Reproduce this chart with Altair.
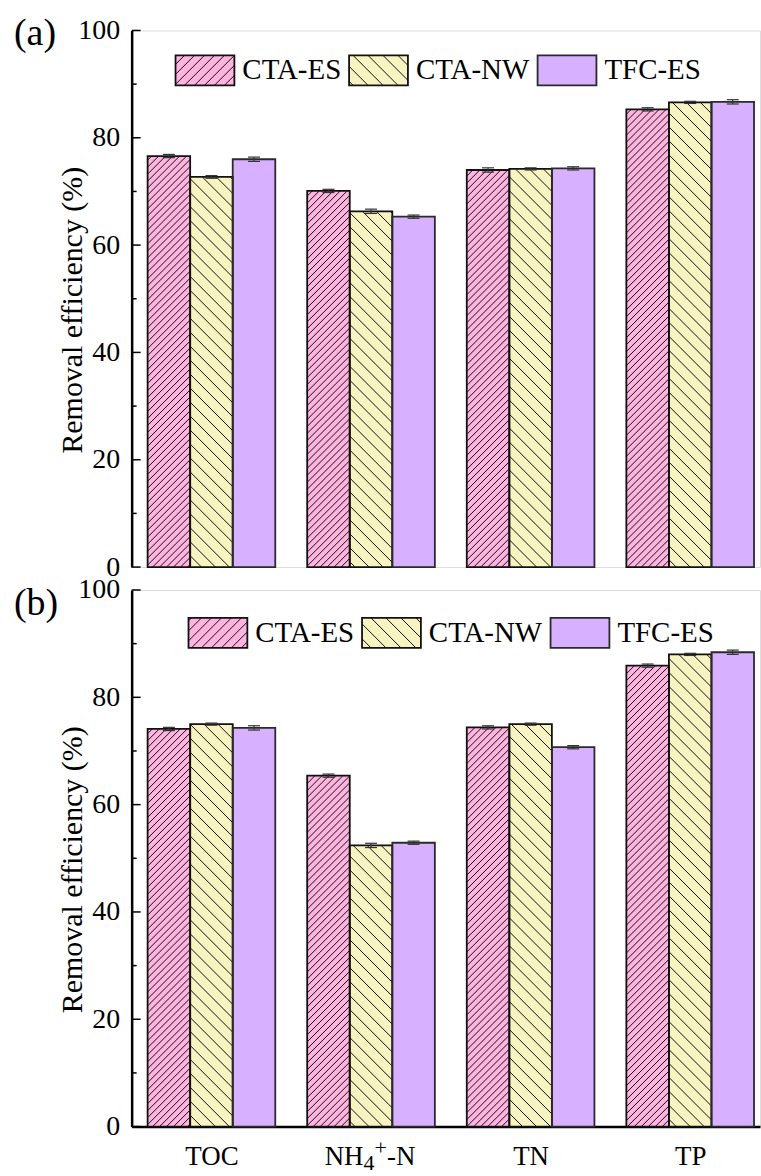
import altair as alt
import pandas as pd
import numpy as np

# ---------------- data ----------------
categories = ["TOC", "NH4+-N", "TN", "TP"]
nh_pieces = ["NH", "4", "+", "-N"]          # rich rendering of category 1
nh_roles = ["normal", "sub", "sup", "normal"]
series = ["CTA-ES", "CTA-NW", "TFC-ES"]
panel_labels = ["(a)", "(b)"]
y_title = "Removal efficiency (%)"

a_cta_es = [76.6, 70.1, 74.0, 85.3]
a_cta_nw = [72.7, 66.3, 74.2, 86.6]
a_tfc_es = [76.0, 65.3, 74.3, 86.7]
a_err_cta_es = [0.3, 0.3, 0.4, 0.3]
a_err_cta_nw = [0.25, 0.4, 0.2, 0.2]
a_err_tfc_es = [0.4, 0.3, 0.3, 0.4]

b_cta_es = [74.1, 65.4, 74.4, 85.9]
b_cta_nw = [75.0, 52.4, 75.0, 88.0]
b_tfc_es = [74.3, 52.9, 70.7, 88.4]
b_err_cta_es = [0.3, 0.3, 0.3, 0.3]
b_err_cta_nw = [0.2, 0.4, 0.2, 0.2]
b_err_tfc_es = [0.4, 0.3, 0.3, 0.4]

y_major = [0, 20, 40, 60, 80, 100]
y_minor = [10, 30, 50, 70, 90]

# ---------------- style / layout ----------------
FONT = "Liberation Serif"
colors = ["#FFB3DF", "#F8F4C1", "#D7B0FF"]
outline = ["#111111", "#111111", "#2a2a2a"]
hatch_dir = [1, -1, 0]          # "/" , "\" , none
hatch_gap_bar = [7.0, 14.0, 0]
hatch_gap_leg = [10.0, 15.0, 0]

W, H = 630, 538
GROUP_PX = 160.0
X_MIN = -0.5
X_MAX = X_MIN + W / GROUP_PX
BAR_FRAC = 0.8 / 3

LEG_LEFT = [44, 57]       # px from plot left
LEG_TOP = [25, 28]        # px from plot top
LEG_SW_W, LEG_SW_H = 59, 30
LEG_STEP = [0, 174, 363]
LEG_TEXT_DX = 67

XLAB_SIZE = 27
XLAB_PAD = 17
XLAB_MID = XLAB_PAD + 14          # px below plot bottom of the label centre
NH_DX = [-46.5, -7.5, 3.5, 16.0]  # px from group centre (left edges of pieces)
ROLE_DY = {"normal": 0, "sub": 6, "sup": -10}
ROLE_SIZE = {"normal": 27, "sub": 22, "sup": 22}


def px2x(p):
    return X_MIN + p / W * (X_MAX - X_MIN)


def x2px(x):
    return (x - X_MIN) / (X_MAX - X_MIN) * W


def px2y(p):
    return p / H * 100.0


def y2px(y):
    return y / 100.0 * H


def hatch(x0, x1, y0, y1, gap, direction):
    segs = []
    if direction == 0 or gap <= 0:
        return segs
    if direction > 0:  # y = x - c
        cmin, cmax = x0 - y1, x1 - y0
        c = np.ceil(cmin / gap) * gap
        while c <= cmax:
            xa, xb = max(x0, y0 + c), min(x1, y1 + c)
            if xb - xa > 0.3:
                segs.append((xa, xa - c, xb, xb - c))
            c += gap
    else:  # y = c - x
        cmin, cmax = x0 + y0, x1 + y1
        c = np.ceil(cmin / gap) * gap
        while c <= cmax:
            xa, xb = max(x0, c - y1), min(x1, c - y0)
            if xb - xa > 0.3:
                segs.append((xa, c - xa, xb, c - xb))
            c += gap
    return segs


xscale = alt.Scale(domain=[X_MIN, X_MAX], nice=False, zero=False)
yscale = alt.Scale(domain=[0, 100], nice=False, zero=False)

axis_names = [c if i != 1 else "" for i, c in enumerate(categories)]
label_expr = "[" + ",".join("'" + c + "'" for c in axis_names) + "][datum.value]"


def make_panel(idx, vals, errs, show_x):
    if show_x:
        xaxis = alt.Axis(
            values=list(range(len(categories))), labelExpr=label_expr,
            ticks=False, grid=False, title=None, domainColor="black", domainWidth=2.5,
            labelFont=FONT, labelFontSize=XLAB_SIZE, labelColor="black",
            labelPadding=XLAB_PAD, labelFlush=False, labelOverlap=False,
        )
    else:
        xaxis = None
    yaxis = alt.Axis(
        values=y_major, ticks=False, grid=False, title=y_title,
        domainColor="black", domainWidth=2.5,
        labelFont=FONT, labelFontSize=28, labelColor="black", labelPadding=12,
        titleFont=FONT, titleFontSize=30, titleFontWeight="normal", titleColor="black",
        titleX=-59, titleY=280, titleBaseline="middle", titleAngle=-90,
    )
    X = lambda f: alt.X(f, type="quantitative", scale=xscale, axis=xaxis)
    Y = lambda f: alt.Y(f, type="quantitative", scale=yscale, axis=yaxis)

    rects, segs, errrows, texts = [], [], [], []
    for s, name in enumerate(series):
        for g in range(len(categories)):
            x0 = g - 0.4 + s * BAR_FRAC
            x1 = x0 + BAR_FRAC
            v = vals[s][g]
            e = errs[s][g]
            rects.append(dict(series=name, x=x0, x2=x1, y=0.0, y2=v))
            for (ax, ay, bx, by) in hatch(x2px(x0), x2px(x1), 0.0, y2px(v),
                                           hatch_gap_bar[s], hatch_dir[s]):
                segs.append(dict(x=px2x(ax), y=px2y(ay), x2=px2x(bx), y2=px2y(by)))
            cx = (x0 + x1) / 2
            cap = px2x(6) - px2x(0)
            errrows.append(dict(x=cx, x2=cx, y=v - e, y2=v + e))
            errrows.append(dict(x=cx - cap, x2=cx + cap, y=v + e, y2=v + e))
            errrows.append(dict(x=cx - cap, x2=cx + cap, y=v - e, y2=v - e))
        # legend entry
        lx0 = LEG_LEFT[idx] + LEG_STEP[s]
        lx1 = lx0 + LEG_SW_W
        ly1 = H - LEG_TOP[idx]
        ly0 = ly1 - LEG_SW_H
        rects.append(dict(series=name, x=px2x(lx0), x2=px2x(lx1), y=px2y(ly0), y2=px2y(ly1)))
        for (ax, ay, bx, by) in hatch(lx0, lx1, ly0, ly1, hatch_gap_leg[s], hatch_dir[s]):
            segs.append(dict(x=px2x(ax), y=px2y(ay), x2=px2x(bx), y2=px2y(by)))
        texts.append(dict(label=name, x=px2x(lx0 + LEG_TEXT_DX), y=px2y((ly0 + ly1) / 2)))

    rdf = pd.DataFrame(rects)
    sdf = pd.DataFrame(segs)
    edf = pd.DataFrame(errrows)
    tdf = pd.DataFrame(texts)

    color = alt.Color("series:N", scale=alt.Scale(domain=series, range=colors), legend=None)
    strokec = alt.Stroke("series:N", scale=alt.Scale(domain=series, range=outline), legend=None)

    fills = alt.Chart(rdf).mark_rect(strokeWidth=0).encode(
        x=X("x"), x2="x2", y=Y("y"), y2="y2", color=color)
    hatches = alt.Chart(sdf).mark_rule(color="#111111", strokeWidth=1.0).encode(
        x=X("x"), x2="x2", y=Y("y"), y2="y2")
    outlines = alt.Chart(rdf).mark_rect(fillOpacity=0, strokeWidth=1.8).encode(
        x=X("x"), x2="x2", y=Y("y"), y2="y2", stroke=strokec)
    errbars = alt.Chart(edf).mark_rule(color="#333333", strokeWidth=1.2).encode(
        x=X("x"), x2="x2", y=Y("y"), y2="y2")
    legtext = alt.Chart(tdf).mark_text(
        align="left", baseline="middle", font=FONT, fontSize=29, color="black"
    ).encode(x=X("x"), y=Y("y"), text="label:N")

    major = alt.Chart(pd.DataFrame({"v": y_major})).mark_rule(
        color="black", strokeWidth=1.5).encode(x=alt.value(0), x2=alt.value(9), y=Y("v"))
    minor = alt.Chart(pd.DataFrame({"v": y_minor})).mark_rule(
        color="black", strokeWidth=1.5).encode(x=alt.value(0), x2=alt.value(5), y=Y("v"))

    plabel = alt.Chart(pd.DataFrame({"label": [panel_labels[idx]]})).mark_text(
        align="left", baseline="middle", font=FONT, fontSize=38, color="black"
    ).encode(x=alt.value(-118), y=alt.value(4 if idx == 0 else 14), text="label:N")

    layers = [fills, hatches, outlines, errbars, legtext, major, minor, plabel]

    if show_x:
        for role in ["normal", "sub", "sup"]:
            rows = [dict(label=p, x=1 + px2x(NH_DX[i]) - px2x(0))
                    for i, p in enumerate(nh_pieces) if nh_roles[i] == role]
            layers.append(
                alt.Chart(pd.DataFrame(rows)).mark_text(
                    align="left", baseline="middle", font=FONT,
                    fontSize=ROLE_SIZE[role], dy=ROLE_DY[role], color="black"
                ).encode(x=X("x"), y=alt.value(H + XLAB_MID), text="label:N")
            )

    return alt.layer(*layers).properties(width=W, height=H)


pa = make_panel(0, [a_cta_es, a_cta_nw, a_tfc_es], [a_err_cta_es, a_err_cta_nw, a_err_tfc_es], False)
pb = make_panel(1, [b_cta_es, b_cta_nw, b_tfc_es], [b_err_cta_es, b_err_cta_nw, b_err_tfc_es], True)

chart = alt.vconcat(pa, pb, spacing=-7).properties(
    padding={"left": 13, "top": 13, "right": 0, "bottom": 0},
    background="white",
).configure_view(stroke="black", strokeWidth=2.5).configure(font=FONT)

chart.save("out.html", embed_options={"renderer": "svg", "actions": False})
